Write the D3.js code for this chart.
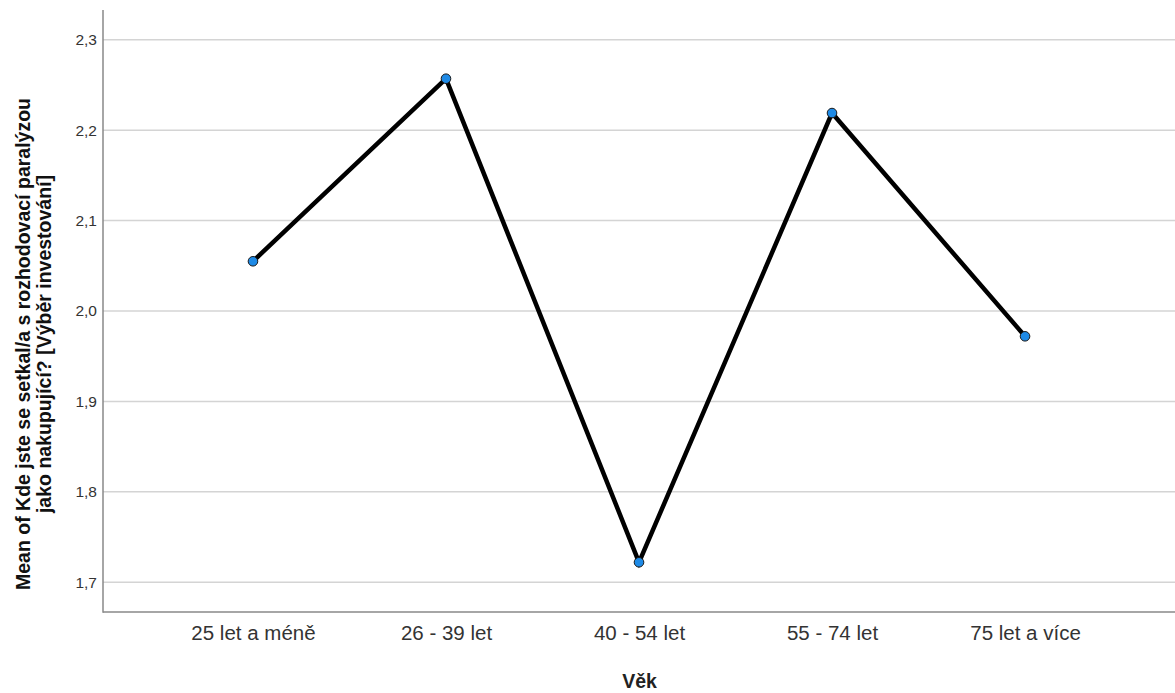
<!DOCTYPE html>
<html><head><meta charset="utf-8">
<script src="https://cdn.jsdelivr.net/npm/d3@7/dist/d3.min.js"></script>
<style>body{margin:0;background:#fff;} svg{display:block;}</style>
</head><body>
<svg id="c" width="1175" height="693"></svg>
<script>
const categories = ["25 let a méně", "26 - 39 let", "40 - 54 let", "55 - 74 let", "75 let a více"];
const values = [2.055, 2.257, 1.722, 2.219, 1.972];
const yTicks = [1.7, 1.8, 1.9, 2.0, 2.1, 2.2, 2.3];
const yDomain = [1.667, 2.333];
const xTitle = "Věk";
const yTitleLines = ["Mean of Kde jste se setkal/a s rozhodovací paralýzou", "jako nakupující? [Výběr investování]"];

const svg = d3.select("#c");
const L = 103, R = 1175, T = 10, B = 612;
const FONT = "Liberation Sans, Arial, sans-serif";
const x = d3.scalePoint().domain(categories).range([L, R]).padding(0.777);
const y = d3.scaleLinear().domain(yDomain).range([B, T]);
const fmt = v => d3.format(".1f")(v).replace(".", ",");

// gridlines
svg.append("g").selectAll("line").data(yTicks).join("line")
  .attr("x1", L).attr("x2", R)
  .attr("y1", d => y(d)).attr("y2", d => y(d))
  .attr("stroke", "#d4d4d4").attr("stroke-width", 1.5);

// y axis
const ya = svg.append("g").attr("transform", `translate(${L},0)`)
  .call(d3.axisLeft(y).tickValues(yTicks).tickFormat(fmt).tickSize(0).tickPadding(6));
ya.select(".domain").remove();
ya.selectAll("text").attr("font-family", FONT).attr("font-size", 15.5).attr("fill", "#333");

// x axis
const xa = svg.append("g").attr("transform", `translate(0,${B})`)
  .call(d3.axisBottom(x).tickSize(0).tickPadding(13));
xa.select(".domain").remove();
xa.selectAll("text").attr("font-family", FONT).attr("font-size", 20.5).attr("fill", "#333");

// axis lines
svg.append("line").attr("x1", L).attr("x2", L).attr("y1", T).attr("y2", B + 0.75)
  .attr("stroke", "#888").attr("stroke-width", 1.5);
svg.append("line").attr("x1", L).attr("x2", R).attr("y1", B).attr("y2", B)
  .attr("stroke", "#888").attr("stroke-width", 1.5);

// line
const line = d3.line().x((d, i) => x(categories[i])).y(d => y(d));
svg.append("path").datum(values).attr("d", line)
  .attr("fill", "none").attr("stroke", "#000").attr("stroke-width", 4.5).attr("stroke-linejoin", "miter");

// points
svg.append("g").selectAll("circle").data(values).join("circle")
  .attr("cx", (d, i) => x(categories[i])).attr("cy", d => y(d)).attr("r", 4.8)
  .attr("fill", "#1e8ae6").attr("stroke", "#1a1a1a").attr("stroke-width", 1);

// titles
svg.append("text").attr("x", 639.5).attr("y", 688).attr("text-anchor", "middle")
  .attr("font-family", FONT).attr("font-size", 19.5).attr("font-weight", "bold")
  .attr("fill", "#222").text(xTitle);

const yt = svg.append("text").attr("transform", "translate(0,344) rotate(-90)")
  .attr("text-anchor", "middle").attr("font-family", FONT)
  .attr("font-size", 19.5).attr("font-weight", "bold").attr("fill", "#111");
yTitleLines.forEach((t, i) => {
  yt.append("tspan").attr("x", 0).attr("y", 30 + i * 21).text(t);
});
</script>
</body></html>
